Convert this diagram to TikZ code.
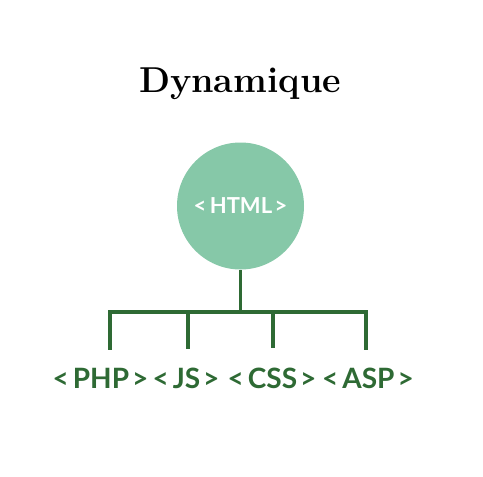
\documentclass[tikz,border=0pt]{standalone}
\usepackage{fontspec}
\setmainfont{Lato}
\newfontfamily\titlefont{Latin Modern Roman}
\definecolor{circlegreen}{RGB}{134,200,168}
\definecolor{darkgreen}{RGB}{46,106,52}
\newcommand{\biglabel}[1]{<\hspace{4pt}#1\hspace{3pt}>}
\newcommand{\smalllabel}[1]{<\hspace{3.5pt}#1\hspace{2.5pt}>}
\begin{document}
\begin{tikzpicture}[x=1pt,y=-1pt,
  linkline/.style={draw=darkgreen,line width=3.2pt},
  langlabel/.style={text=darkgreen,font=\fontsize{28}{30}\selectfont\bfseries,inner sep=0pt,anchor=base}]
\useasboundingbox[fill=white] (0,0) rectangle (483,477);
\node[inner sep=0pt,anchor=base] (title) at (240,92) {\titlefont\fontsize{36}{40}\selectfont\bfseries Dynamique};
\node[circle,fill=circlegreen,minimum size=127pt,inner sep=0pt,text=white,font=\fontsize{22}{26}\selectfont\bfseries] (html) at (240.5,206) {\smalllabel{HTML}};
\node[langlabel] (php) at (100.5,388) {\biglabel{PHP}};
\node[langlabel] (js) at (186,388) {\biglabel{JS}};
\node[langlabel] (css) at (272,388) {\biglabel{CSS}};
\node[langlabel] (asp) at (368,388) {\biglabel{ASP}};
\coordinate (hub) at (240.5,312);
\coordinate (j1) at (110,312);
\coordinate (j2) at (188,312);
\coordinate (j3) at (273,312);
\coordinate (j4) at (366,312);
\coordinate (e1) at (110,350);
\coordinate (e2) at (188,349);
\coordinate (e3) at (273,348);
\coordinate (e4) at (366,350);
\draw[linkline] (html.south) -- (hub);
\draw[linkline,line cap=rect] (j1) -- (j4);
\draw[linkline] (j1) -- (e1);
\draw[linkline] (j2) -- (e2);
\draw[linkline] (j3) -- (e3);
\draw[linkline] (j4) -- (e4);
\end{tikzpicture}
\end{document}
